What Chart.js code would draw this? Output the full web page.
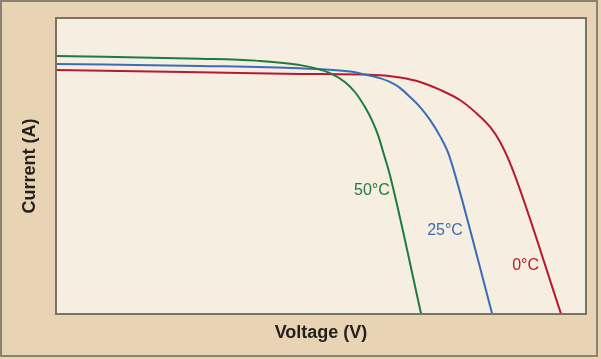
<!DOCTYPE html>
<html>
<head>
<meta charset="utf-8">
<script src="https://cdn.jsdelivr.net/npm/chart.js@4/dist/chart.umd.min.js"></script>
<style>
	html, body { margin: 0; padding: 0; background: #e8d3b4; }
	#wrap { width: 601px; height: 359px; }
</style>
</head>
<body>
<div id="wrap"><canvas id="iv"></canvas></div>
<script>
// I-V curves (voltage and current in arbitrary 0-100 units)
const seriesNames = ['50°C', '25°C', '0°C'];
const seriesColors = ['#1e7b3e', '#3a6db5', '#b71a2f'];

const voltage50 = [0, 27.2, 37.7, 46.0, 51.7, 54.5, 56.4, 58.3, 59.6, 60.75, 61.9, 63.0, 68.9];
const current50 = [87.2, 86.25, 85.6, 84.1, 81.4, 78.4, 75.0, 69.9, 65.5, 60.5, 53.7, 47.0, 0];

const voltage25 = [0, 27.2, 46.0, 55.5, 58.3, 61.1, 63.0, 64.9, 66.8, 68.7, 70.6, 72.45, 74.0, 75.3, 82.3];
const current25 = [84.5, 83.8, 83.0, 81.9, 80.9, 79.7, 78.4, 76.4, 73.3, 69.9, 65.5, 60.1, 54.4, 47.0, 0];

const voltage0 = [0, 27.2, 46.0, 61.1, 64.9, 68.7, 72.5, 76.2, 79.1, 81.9, 83.8, 86.2, 95.3];
const current0 = [82.4, 81.7, 81.1, 80.7, 79.9, 78.4, 75.7, 72.3, 68.2, 63.2, 58.1, 48.6, 0];

// where each curve's label sits
const labelVoltage = [59.6, 73.4, 88.6];
const labelCurrent = [41.6, 28.2, 16.4];

const toPoints = (xs, ys) => xs.map((x, i) => ({ x, y: ys[i] }));

const frame = {
	id: 'frame',
	beforeDraw: (chart) => {
		const { ctx, chartArea: a, width, height } = chart;
		ctx.save();
		ctx.fillStyle = '#e8d3b4';
		ctx.fillRect(0, 0, width, height);
		ctx.strokeStyle = '#8a8173';
		ctx.lineWidth = 2;
		ctx.strokeRect(1, 1, 596, 355);
		ctx.fillStyle = '#f5eee1';
		ctx.fillRect(a.left, a.top, a.right - a.left, a.bottom - a.top);
		ctx.restore();
	},
	afterDraw: (chart) => {
		const { ctx, chartArea: a, scales } = chart;
		ctx.save();
		ctx.strokeStyle = '#7a7264';
		ctx.lineWidth = 2;
		ctx.strokeRect(a.left, a.top, a.right - a.left, a.bottom - a.top);
		ctx.font = '16px "Liberation Sans", Arial, sans-serif';
		ctx.textAlign = 'center';
		ctx.textBaseline = 'middle';
		seriesNames.forEach((name, i) => {
			ctx.fillStyle = seriesColors[i];
			ctx.fillText(name, scales.x.getPixelForValue(labelVoltage[i]), scales.y.getPixelForValue(labelCurrent[i]));
		});
		ctx.restore();
	},
};

const datasets = [
	toPoints(voltage50, current50),
	toPoints(voltage25, current25),
	toPoints(voltage0, current0),
].map((data, i) => ({
	label: seriesNames[i],
	data,
	borderColor: seriesColors[i],
	borderWidth: 2,
	pointRadius: 0,
	fill: false,
	cubicInterpolationMode: 'monotone',
}));

const titleFont = { family: '"Liberation Sans", Arial, sans-serif', size: 18, weight: 'bold' };

new Chart(document.getElementById('iv'), {
	type: 'line',
	data: { datasets },
	plugins: [frame],
	options: {
		responsive: true,
		maintainAspectRatio: false,
		animation: false,
		layout: { padding: { left: 12, right: 15, top: 18, bottom: 12 } },
		plugins: { legend: { display: false }, tooltip: { enabled: false } },
		scales: {
			x: {
				type: 'linear',
				min: 0,
				max: 100,
				ticks: { display: false },
				grid: { display: false, drawTicks: false },
				border: { display: false },
				title: {
					display: true,
					text: 'Voltage (V)',
					color: '#231f1c',
					font: titleFont,
					padding: { top: 8.2, bottom: 3.2 },
				},
			},
			y: {
				type: 'linear',
				min: 0,
				max: 100,
				ticks: { display: false },
				grid: { display: false, drawTicks: false },
				border: { display: false },
				title: {
					display: true,
					text: 'Current (A)',
					color: '#231f1c',
					font: titleFont,
					padding: { top: 7, bottom: 15.4 },
				},
			},
		},
	},
});
</script>
</body>
</html>
